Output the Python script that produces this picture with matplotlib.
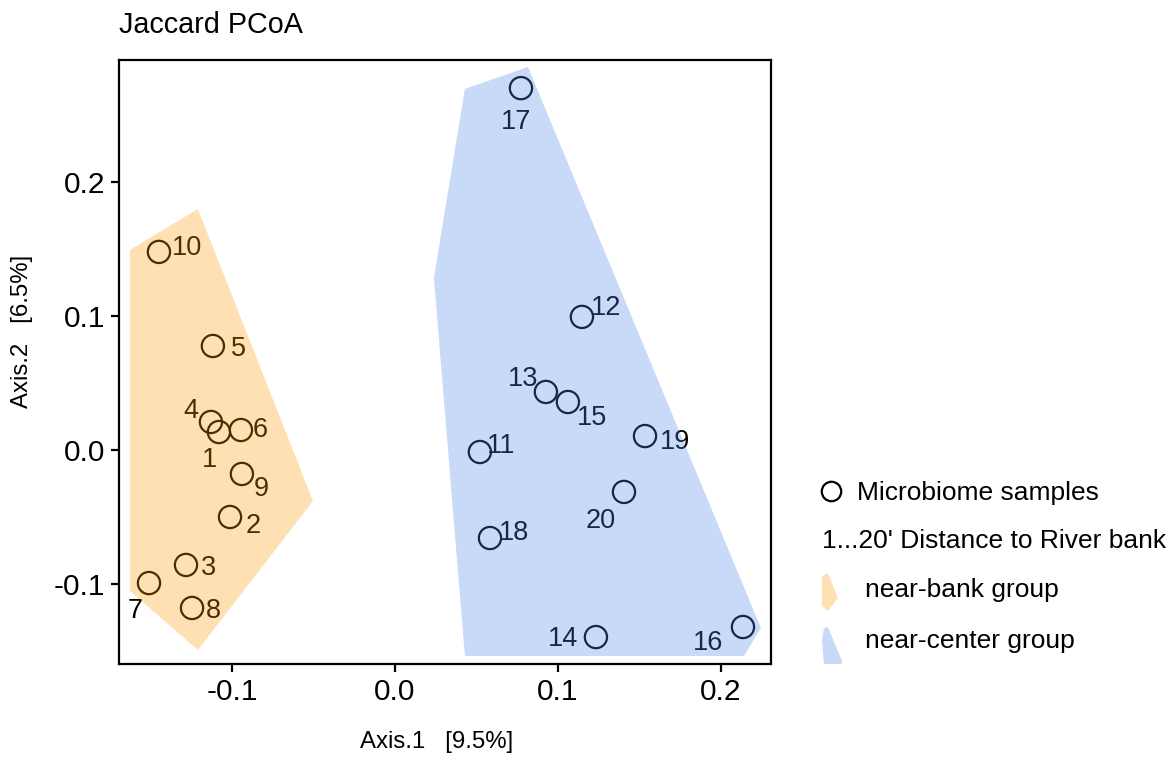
import matplotlib
matplotlib.use("Agg")
import matplotlib.pyplot as plt
from matplotlib.patches import Polygon
import numpy as np

plt.rcParams['font.family'] = ['Liberation Sans', 'DejaVu Sans']

# ---------------- data ----------------
sample_ids = [str(i) for i in range(1, 21)]
axis1 = [-0.108, -0.1012, -0.1282, -0.1129, -0.1117, -0.0945, -0.1509, -0.1245, -0.0939, -0.1448,
         0.0521, 0.1147, 0.0926, 0.1233, 0.1061, 0.2135, 0.0773, 0.0583, 0.1534, 0.1405]
axis2 = [0.0134, -0.0500, -0.0858, 0.0209, 0.0776, 0.0149, -0.0993, -0.1179, -0.0179, 0.1478,
         -0.0015, 0.0993, 0.0433, -0.1396, 0.0358, -0.1321, 0.2700, -0.0657, 0.0104, -0.0313]

bank_hull_x = [-0.1626, -0.1209, -0.0503, -0.1209, -0.1626]
bank_hull_y = [0.1493, 0.1798, -0.0381, -0.1493, -0.1052]
center_hull_x = [0.0429, 0.0816, 0.2245, 0.2141, 0.0429, 0.0239]
center_hull_y = [0.2694, 0.2858, -0.1328, -0.1537, -0.1537, 0.1284]

x_ticks = [-0.1, 0.0, 0.1, 0.2]
y_ticks = [-0.1, 0.0, 0.1, 0.2]

title = "Jaccard PCoA"
xlab = "Axis.1   [9.5%]"
ylab = "Axis.2   [6.5%]"
legend_labels = ["Microbiome samples", "1...20' Distance to River bank",
                 "near-bank group", "near-center group"]

# label offsets in pixels (right, down) -- layout only
label_offsets = {
    '1': (-9, 28), '2': (23, 9), '3': (23, 3), '4': (-20, -11), '5': (26, 3),
    '6': (19, 0), '7': (-14, 28), '8': (21, 3), '9': (19, 15), '10': (28, -4),
    '11': (21, -6), '12': (24, -9), '13': (-23, -13), '14': (-33, 2), '15': (24, 16),
    '16': (-35, 16), '17': (-5, 34), '18': (24, -5), '19': (30, 6), '20': (-23, 29),
}

bank_color = "#FF9A00"
center_color = "#4A86E8"
fill_alpha = 0.3

W, H = 1176, 758
fig = plt.figure(figsize=(W / 100, H / 100), dpi=100)
ax = fig.add_axes([119 / W, 1 - 664 / H, (771 - 119) / W, (664 - 60) / H])
ax.set_xlim(-0.1693, 0.2307)
ax.set_ylim(-0.1597, 0.291)

ax.scatter(axis1, axis2, s=16 ** 2, facecolors='none', edgecolors='black', linewidths=1.6, zorder=2)
for sid, x, y in zip(sample_ids, axis1, axis2):
    dx, dy = label_offsets[sid]
    ax.annotate(sid, (x, y), xytext=(dx, -dy), textcoords='offset pixels',
                ha='center', va='center', fontsize=19.5, color='black', zorder=2)

ax.add_patch(Polygon(np.column_stack([bank_hull_x, bank_hull_y]), closed=True,
                     facecolor=bank_color, alpha=fill_alpha, edgecolor='none', zorder=3))
ax.add_patch(Polygon(np.column_stack([center_hull_x, center_hull_y]), closed=True,
                     facecolor=center_color, alpha=fill_alpha, edgecolor='none', zorder=3))

ax.set_xticks(x_ticks)
ax.set_xticklabels([f"{v:.1f}" for v in x_ticks])
ax.set_yticks(y_ticks)
ax.set_yticklabels([f"{v:.1f}" for v in y_ticks])
ax.tick_params(axis='both', labelsize=21.5, length=6, width=1.6, color='black', labelcolor='black', pad=4)
for sp in ax.spines.values():
    sp.set_linewidth(1.6)
    sp.set_color('black')

ax.set_xlabel(xlab, fontsize=17.3)
ax.xaxis.set_label_coords((437 - 119) / (771 - 119), -(742 - 664) / (664 - 60), transform=ax.transAxes)
ax.set_ylabel(ylab, fontsize=17.3)
ax.yaxis.set_label_coords(-(119 - 22) / (771 - 119), (664 - 331) / (664 - 60), transform=ax.transAxes)
ax.xaxis.label.set_va('center')
ax.yaxis.label.set_va('center')

fig.text(119 / W, 1 - 25 / H, title, fontsize=20.7, ha='left', va='center')

# ---------------- legend (overlay in pixel coords) ----------------
lax = fig.add_axes([0, 0, 1, 1])
lax.set_xlim(0, W)
lax.set_ylim(H, 0)
lax.axis('off')

lax.plot([831], [491], marker='o', markersize=14, markerfacecolor='none',
         markeredgecolor='black', markeredgewidth=1.6)
lax.text(857, 493, legend_labels[0], fontsize=19, va='center', ha='left')
lax.text(822, 541, legend_labels[1], fontsize=19, va='center', ha='left')
lax.text(865, 590, legend_labels[2], fontsize=19, va='center', ha='left')
lax.text(865, 641, legend_labels[3], fontsize=19, va='center', ha='left')


def glyph(hx, hy, left, top, height):
    pts = ax.transData.transform(np.column_stack([hx, hy]))
    px = pts[:, 0]
    py = H - pts[:, 1]
    scale = height / (py.max() - py.min())
    gx = left + (px - px.min()) * scale
    gy = top + (py - py.min()) * scale
    return np.column_stack([gx, gy])


lax.add_patch(Polygon(glyph(bank_hull_x, bank_hull_y, 822, 573, 38), closed=True,
                      facecolor=bank_color, alpha=fill_alpha, edgecolor='none'))
lax.add_patch(Polygon(glyph(center_hull_x, center_hull_y, 822, 627, 37), closed=True,
                      facecolor=center_color, alpha=fill_alpha, edgecolor='none'))

fig.savefig("out.png", dpi=100)
